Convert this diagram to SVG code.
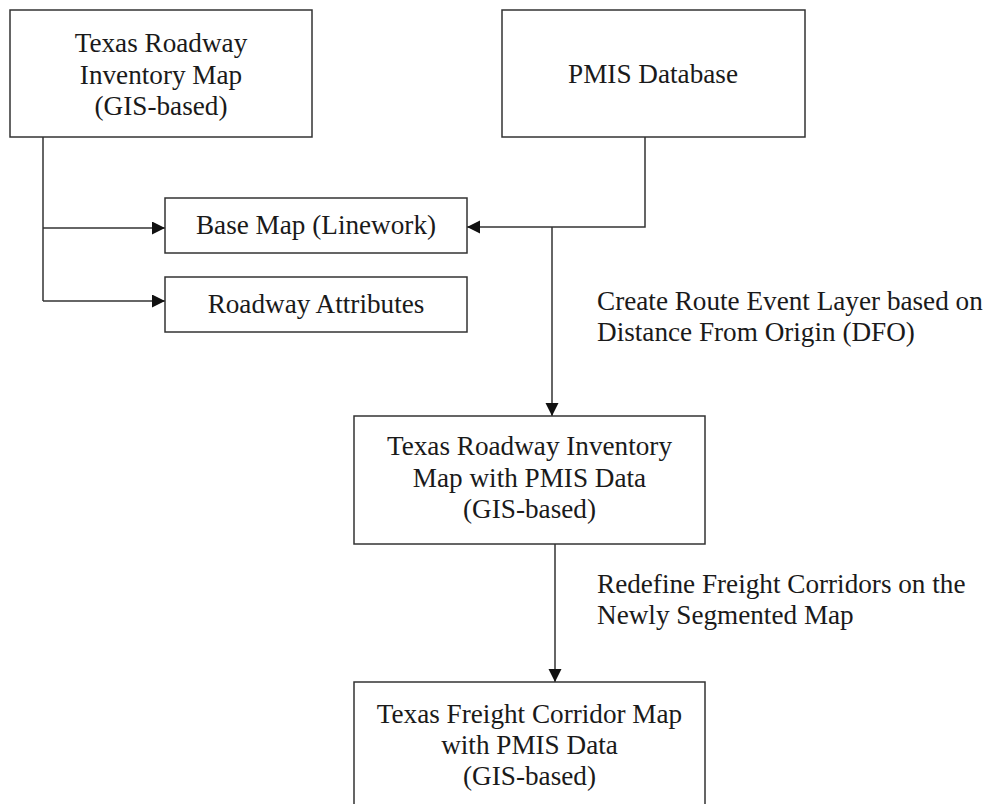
<svg xmlns="http://www.w3.org/2000/svg" width="988" height="804" viewBox="0 0 988 804">
<style>
.box{fill:#fff;stroke:#333;stroke-width:1.5}
.t{font-family:"Liberation Serif","Times New Roman",serif;font-size:27.2px;fill:#1a1a1a}
.c{text-anchor:middle}
.ln{fill:none;stroke:#333;stroke-width:1.5}
</style>
<defs>
<marker id="ah" markerUnits="userSpaceOnUse" markerWidth="14" markerHeight="14" refX="13" refY="6.5" orient="auto">
<path d="M0,0 L13,6.5 L0,13 Z" fill="#111"/>
</marker>
</defs>
<rect width="988" height="804" fill="#fff"/>
<g id="connectors">
<path class="ln" d="M43,137 V301"/>
<path class="ln" d="M43,228 H165" marker-end="url(#ah)"/>
<path class="ln" d="M43,301 H165" marker-end="url(#ah)"/>
<path class="ln" d="M645,137 V227 H467" marker-end="url(#ah)"/>
<path class="ln" d="M552,227 V416" marker-end="url(#ah)"/>
<path class="ln" d="M555,544 V682" marker-end="url(#ah)"/>
<text class="t" x="597" y="310">Create Route Event Layer based on</text>
<text class="t" x="597" y="341">Distance From Origin (DFO)</text>
<text class="t" x="597" y="593">Redefine Freight Corridors on the</text>
<text class="t" x="597" y="624">Newly Segmented Map</text>
</g>
<g id="node-roadway-inventory">
<rect class="box" x="10" y="10" width="302" height="127"/>
<text class="t c" x="161" y="52">Texas Roadway</text>
<text class="t c" x="161" y="84">Inventory Map</text>
<text class="t c" x="161" y="115">(GIS-based)</text>
</g>
<g id="node-pmis">
<rect class="box" x="502" y="10" width="303" height="127"/>
<text class="t c" x="653" y="83">PMIS Database</text>
</g>
<g id="node-basemap">
<rect class="box" x="165" y="198" width="302" height="55"/>
<text class="t c" x="316" y="234">Base Map (Linework)</text>
</g>
<g id="node-attributes">
<rect class="box" x="165" y="277" width="302" height="55"/>
<text class="t c" x="316" y="313">Roadway Attributes</text>
</g>
<g id="node-inventory-pmis">
<rect class="box" x="354" y="416" width="351" height="128"/>
<text class="t c" x="529.5" y="455">Texas Roadway Inventory</text>
<text class="t c" x="529.5" y="487">Map with PMIS Data</text>
<text class="t c" x="529.5" y="518">(GIS-based)</text>
</g>
<g id="node-freight">
<rect class="box" x="354" y="682" width="351" height="140"/>
<text class="t c" x="529.5" y="723">Texas Freight Corridor Map</text>
<text class="t c" x="529.5" y="754">with PMIS Data</text>
<text class="t c" x="529.5" y="785">(GIS-based)</text>
</g>
</svg>
